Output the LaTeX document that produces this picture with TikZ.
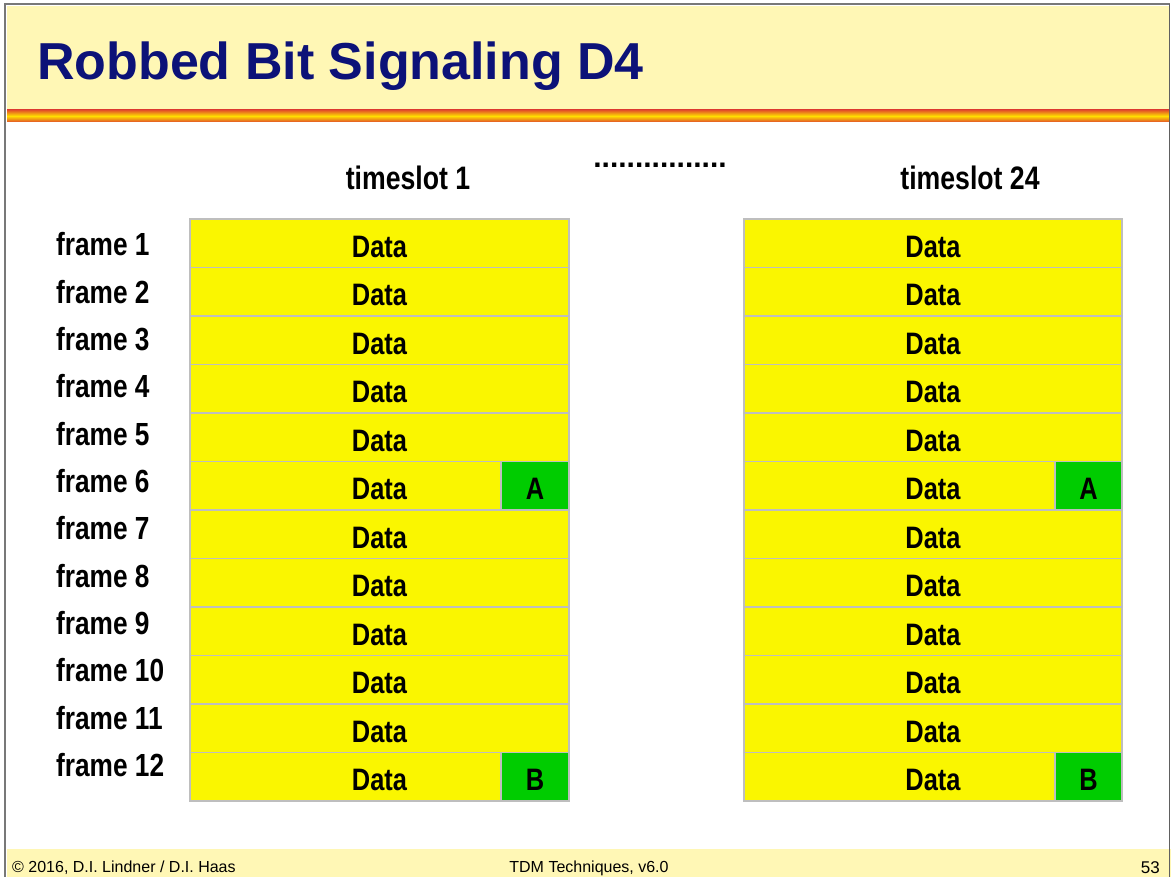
\documentclass[tikz,border=0pt]{standalone}
\usepackage{fontspec}
\setmainfont{Liberation Sans}
\newfontfamily\narrowfont[FakeStretch=0.82]{Liberation Sans}
\usetikzlibrary{positioning}
\definecolor{bandyellow}{RGB}{255,247,181}
\definecolor{titleblue}{RGB}{12,18,120}
\definecolor{cellyellow}{RGB}{250,246,0}
\definecolor{cellgreen}{RGB}{0,204,0}
\definecolor{cellborder}{RGB}{190,190,190}
\definecolor{framegray}{RGB}{120,120,120}
\definecolor{stripered}{RGB}{226,80,40}
\definecolor{stripeyellow}{RGB}{255,222,0}
\tikzset{
  x=1pt, y=-1pt,
  datacell/.style={draw=cellborder, line width=1.2pt, fill=cellyellow, rectangle,
    minimum height=48.5pt, inner sep=0pt, text height=28pt, text depth=0pt,
    font=\narrowfont\bfseries\fontsize{31}{36}\selectfont},
  sigcell/.style={datacell, fill=cellgreen},
  framelabel/.style={anchor=base west, inner sep=0pt,
    font=\narrowfont\bfseries\fontsize{32}{36}\selectfont},
  slotlabel/.style={anchor=base, inner sep=0pt,
    font=\narrowfont\bfseries\fontsize{32.5}{36}\selectfont},
  foottext/.style={anchor=base, inner sep=0pt,
    font=\fontsize{16}{20}\selectfont},
}
\begin{document}
\begin{tikzpicture}
\useasboundingbox (0,0) rectangle (1171,877);
\fill[white] (0,0) rectangle (1171,877);
% title band
\fill[bandyellow] (7,6) rectangle (1169,111);
\shade[top color=stripered, bottom color=stripered, middle color=stripeyellow] (7,110) rectangle (1169,122);
% footer band
\fill[bandyellow] (7,849) rectangle (1171,877);
% slide border
\draw[framegray, line width=2.5pt] (5,877) -- (5,4) -- (1170,4);
\draw[framegray!80!black, line width=1pt] (1169.5,4) -- (1169.5,877);
% title
\node[anchor=base west, inner sep=0pt, text=titleblue,
  font=\bfseries\fontsize{52}{60}\selectfont] (title) at (37,80) {Robbed Bit Signaling D4};
% column headers
\node[slotlabel] (ts1) at (408,190) {timeslot 1};
\node[slotlabel] (ts24) at (970,190) {timeslot 24};
\node[anchor=base, inner sep=0pt, font=\bfseries\fontsize{30}{36}\selectfont] (dots) at (660,168) {................};
% rows
\foreach \i in {1,...,12}{
  \pgfmathsetmacro{\yc}{219+(\i-1)*48.5+24.25}
  \pgfmathsetmacro{\yf}{256+(\i-1)*47.3}
  \node[framelabel] (f\i) at (56,\yf) {frame \i};
  \node[datacell, minimum width=379pt] (l\i) at (379.5,\yc) {Data};
  \node[datacell, minimum width=378pt] (r\i) at (933,\yc) {Data};
}
\node[sigcell, minimum width=68pt] (la) at (535,{219+5*48.5+24.25}) {A};
\node[sigcell, minimum width=67pt] (ra) at (1088.5,{219+5*48.5+24.25}) {A};
\node[sigcell, minimum width=68pt] (lb) at (535,{219+11*48.5+24.25}) {B};
\node[sigcell, minimum width=67pt] (rb) at (1088.5,{219+11*48.5+24.25}) {B};
% footer
\node[foottext, anchor=base west] (copy) at (12,872) {© 2016, D.I. Lindner / D.I. Haas};
\node[foottext] (course) at (589,872) {TDM Techniques, v6.0};
\node[foottext, anchor=base east, font=\fontsize{17}{20}\selectfont] (page) at (1160,873) {53};
\end{tikzpicture}
\end{document}
